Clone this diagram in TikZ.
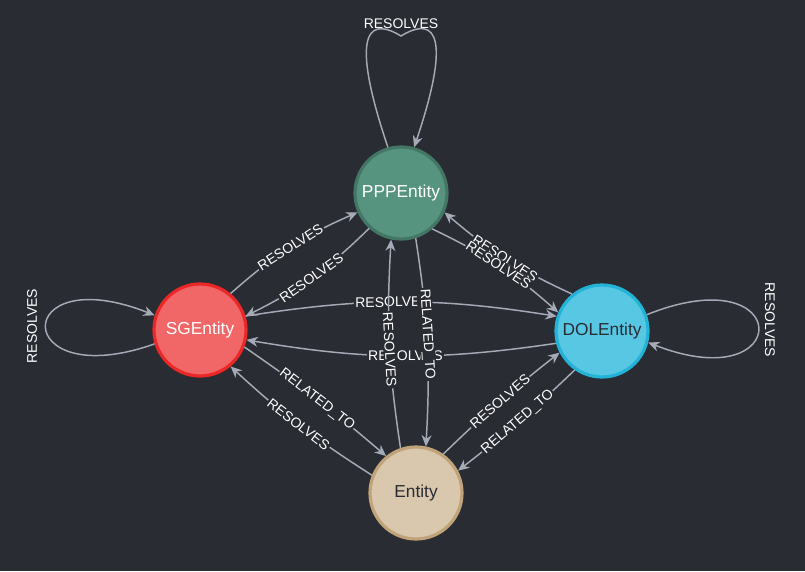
\documentclass[tikz,border=0pt]{standalone}
\usepackage{fontspec}
\setmainfont{Liberation Sans}
\usetikzlibrary{arrows.meta}
\definecolor{bg}{HTML}{292C33}
\definecolor{edge}{HTML}{A5ABB6}
\begin{document}
\begin{tikzpicture}[x=0.75pt,y=-0.75pt,
  ent/.style={circle,minimum size=69pt,inner sep=0pt,line width=2.4pt,font=\fontsize{13}{15}\selectfont},
  rel/.style={draw=edge,line width=1.1pt,-{Stealth[length=8.5pt,width=7.5pt]}},
  lab/.style={fill=bg,text=white,inner sep=1pt,sloped,font=\fontsize{10.5}{12}\selectfont}]
\fill[bg] (0,0) rectangle (805,571);
\node[ent,fill={rgb,255:red,86;green,148;blue,128},draw={rgb,255:red,68;green,118;blue,102},text=white] (ppp) at (401,193) {PPPEntity};
\node[ent,fill={rgb,255:red,241;green,102;blue,103},draw={rgb,255:red,235;green,39;blue,40},text=white] (sg) at (200,330) {SGEntity};
\node[ent,fill={rgb,255:red,87;green,199;blue,227},draw={rgb,255:red,35;green,179;blue,215},text=bg] (dol) at (602,331) {DOLEntity};
\node[ent,fill={rgb,255:red,217;green,200;blue,174},draw={rgb,255:red,192;green,163;blue,120},text=bg] (ent) at (416,493) {Entity};
% self loops
\draw[rel] (ppp.106) .. controls (345,20) and (375,20) .. (401,36) .. controls (427,20) and (457,20) .. (ppp.74);
\node[text=white,font=\fontsize{10.5}{12}\selectfont] (l1) at (401,24) {RESOLVES};
\draw[rel] (sg.197) .. controls (10,395) and (10,258) .. (sg.162);
\node[text=white,font=\fontsize{10.5}{12}\selectfont,rotate=90] (l2) at (32,326) {RESOLVES};
\draw[rel] (dol.20) .. controls (795,255) and (795,400) .. (dol.-14);
\node[text=white,font=\fontsize{10.5}{12}\selectfont,rotate=-90] (l3) at (770,320) {RESOLVES};
% edges
\draw[rel] (sg.50) to[bend left=9] node[lab]{RESOLVES} (ppp.204);
\draw[rel] (ppp.228) to[bend left=9] node[lab]{RESOLVES} (sg.17);
\draw[rel] (sg.17) to[bend left=9] node[lab,pos=0.47]{RESOLVES} (dol.162);
\draw[rel] (dol.195) to[bend left=9] node[lab,pos=0.485]{RESOLVES} (sg.348);
\draw[rel] (dol.129) to[bend left=8] node[lab]{RESOLVES} (ppp.336);
\draw[rel] (ppp.311) to[bend left=8] node[lab]{RESOLVES} (dol.157);
\draw[rel] (ent.109) to[bend left=6] node[lab,pos=0.47]{RESOLVES} (ppp.258);
\draw[rel] (ppp.288) to[bend left=6] node[lab,pos=0.46]{RELATED\_TO} (ent.78);
\draw[rel] (sg.339) to[bend left=3] node[lab]{RELATED\_TO} (ent.129);
\draw[rel] (ent.158) to[bend left=5] node[lab]{RESOLVES} (sg.310);
\draw[rel] (ent.55) to[bend left=3] node[lab]{RESOLVES} (dol.207);
\draw[rel] (dol.235) to[bend left=3] node[lab]{RELATED\_TO} (ent.28);
\end{tikzpicture}
\end{document}
